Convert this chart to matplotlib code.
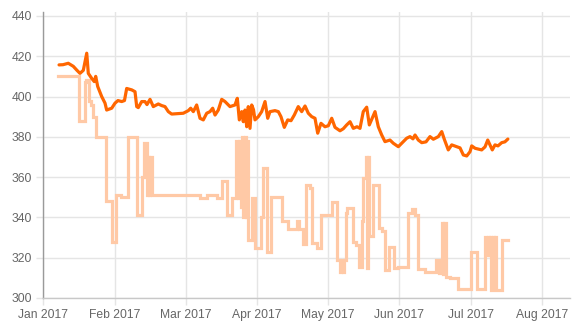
import matplotlib
matplotlib.use("Agg")
import matplotlib.pyplot as plt

plt.rcParams['font.family'] = ['Liberation Sans', 'DejaVu Sans']

# x values are in months since 1 Jan 2017 (0 = Jan 2017, 1 = Feb 2017, ...)
month_labels = ["Jan 2017", "Feb 2017", "Mar 2017", "Apr 2017",
                "May 2017", "Jun 2017", "Jul 2017", "Aug 2017"]
y_ticks = [300, 320, 340, 360, 380, 400, 420, 440]

# dark orange series (smooth line)
orange_points = [
    (0.221, 415.7), (0.277, 415.8), (0.351, 416.5), (0.421, 415.0), (0.473, 413.0),
    (0.515, 411.5), (0.562, 413.0), (0.610, 421.5), (0.632, 411.5), (0.680, 409.0),
    (0.716, 407.4), (0.736, 410.0), (0.764, 405.0), (0.820, 400.0), (0.867, 396.7),
    (0.890, 393.3), (0.961, 394.2), (1.007, 396.7), (1.049, 398.0), (1.101, 397.5),
    (1.140, 398.0), (1.171, 404.0), (1.242, 403.3), (1.288, 402.4), (1.312, 395.0),
    (1.334, 394.5), (1.382, 397.5), (1.428, 397.5), (1.456, 396.0), (1.499, 398.6),
    (1.545, 395.0), (1.615, 396.3), (1.663, 395.5), (1.709, 395.0), (1.756, 392.5),
    (1.803, 391.3), (1.966, 391.7), (2.037, 393.0), (2.070, 394.2), (2.107, 392.5),
    (2.154, 395.8), (2.201, 389.2), (2.247, 388.4), (2.295, 391.7), (2.341, 392.5),
    (2.379, 394.2), (2.412, 390.8), (2.458, 393.3), (2.506, 398.6), (2.552, 397.5),
    (2.622, 395.0), (2.692, 395.8), (2.725, 399.1), (2.753, 388.4), (2.787, 392.5),
    (2.809, 387.5), (2.833, 393.3), (2.857, 385.0), (2.879, 395.0), (2.903, 384.2),
    (2.927, 395.8), (2.952, 393.5), (2.973, 388.4), (3.020, 390.0), (3.067, 392.5),
    (3.114, 397.5), (3.152, 389.2), (3.184, 392.5), (3.254, 393.0), (3.301, 392.5),
    (3.338, 390.0), (3.385, 384.7), (3.433, 388.4), (3.479, 388.0), (3.525, 390.8),
    (3.581, 395.0), (3.629, 392.5), (3.676, 395.3), (3.722, 391.7), (3.770, 390.0),
    (3.816, 389.2), (3.854, 381.8), (3.900, 386.7), (3.956, 385.0), (4.003, 385.5),
    (4.051, 389.2), (4.097, 384.7), (4.167, 383.0), (4.213, 384.0), (4.261, 385.9),
    (4.308, 387.5), (4.354, 384.2), (4.406, 385.0), (4.448, 384.2), (4.494, 392.5),
    (4.542, 394.7), (4.579, 385.9), (4.617, 389.0), (4.659, 392.5), (4.705, 385.0),
    (4.753, 380.9), (4.799, 377.6), (4.869, 378.4), (4.916, 376.8), (4.986, 375.1),
    (5.034, 376.8), (5.104, 379.3), (5.150, 380.1), (5.192, 379.0), (5.221, 380.9),
    (5.267, 378.4), (5.315, 377.1), (5.375, 377.5), (5.431, 380.1), (5.478, 378.8),
    (5.548, 380.1), (5.596, 382.6), (5.632, 378.8), (5.688, 373.5), (5.736, 376.0),
    (5.806, 375.1), (5.853, 374.5), (5.899, 371.0), (5.947, 370.5), (5.993, 372.6),
    (6.017, 375.5), (6.065, 374.3), (6.157, 373.5), (6.204, 375.0), (6.242, 378.4),
    (6.274, 376.0), (6.306, 373.5), (6.344, 376.0), (6.386, 375.5), (6.438, 377.1),
    (6.483, 377.5), (6.525, 378.9),
]

# pale orange series (stepped line)
pale_points = [
    (0.211, 410.0), (0.508, 388.0), (0.579, 407.0), (0.600, 408.0), (0.635, 398.0),
    (0.663, 396.0), (0.699, 390.0), (0.747, 380.0), (0.881, 348.0), (0.969, 328.0),
    (1.020, 351.0), (1.085, 350.0), (1.183, 380.0), (1.309, 341.0), (1.390, 360.0),
    (1.415, 377.0), (1.452, 351.0), (1.470, 370.0), (1.487, 351.0), (1.505, 370.0),
    (1.522, 351.0), (2.201, 349.5), (2.295, 351.0), (2.433, 349.5), (2.503, 358.0),
    (2.576, 341.0), (2.650, 349.5), (2.711, 378.0), (2.730, 349.5), (2.750, 378.0),
    (2.770, 345.0), (2.790, 380.0), (2.810, 340.0), (2.830, 380.0), (2.850, 340.0),
    (2.865, 378.0), (2.879, 328.8), (2.931, 349.5), (2.969, 324.7), (3.053, 340.0),
    (3.086, 364.4), (3.142, 323.0), (3.194, 350.0), (3.346, 338.0), (3.437, 334.3),
    (3.559, 338.0), (3.598, 334.0), (3.652, 327.0), (3.690, 356.0), (3.739, 354.4),
    (3.774, 327.5), (3.840, 324.7), (3.907, 341.2), (4.051, 347.8), (4.118, 318.8),
    (4.167, 313.0), (4.187, 319.0), (4.207, 313.0), (4.227, 319.0), (4.247, 342.0),
    (4.270, 344.8), (4.350, 328.0), (4.388, 326.3), (4.434, 315.5), (4.472, 338.0),
    (4.494, 359.4), (4.528, 370.0), (4.548, 315.0), (4.562, 370.0), (4.575, 331.0),
    (4.631, 356.0), (4.719, 334.6), (4.753, 333.4), (4.799, 313.9), (4.860, 325.5),
    (4.926, 314.7), (4.986, 315.5), (5.126, 342.0), (5.174, 344.0), (5.221, 341.2),
    (5.267, 314.2), (5.361, 313.0), (5.515, 318.8), (5.557, 312.2), (5.596, 337.0),
    (5.615, 312.0), (5.633, 337.0), (5.652, 310.6), (5.712, 309.8), (5.829, 304.5),
    (6.003, 322.7), (6.096, 304.3), (6.205, 330.5), (6.222, 321.5), (6.240, 330.5),
    (6.257, 321.5), (6.275, 330.5), (6.292, 304.0), (6.310, 330.5), (6.327, 321.5),
    (6.345, 330.5), (6.360, 304.0), (6.372, 304.0), (6.438, 329.0), (6.527, 329.0),
]

orange_x = [p[0] for p in orange_points]
orange_y = [p[1] for p in orange_points]
pale_x = [p[0] for p in pale_points]
pale_y = [p[1] for p in pale_points]

W, H = 574, 328
fig = plt.figure(figsize=(W / 100, H / 100), dpi=100)
ax = fig.add_axes([43.3 / W, 30 / H, (570 - 43.3) / W, (298 - 11.7) / H])

ax.plot(pale_x, pale_y, drawstyle='steps-post', color='#FFC9A6', lw=2.3,
        solid_joinstyle='miter', zorder=3)
ax.plot(orange_x, orange_y, color='#FF6600', lw=2.3, solid_joinstyle='round',
        solid_capstyle='round', zorder=4)

ax.set_xlim(0, (570 - 43.3) / 71.2)
ax.set_ylim(300, 442.1)
ax.set_xticks(range(len(month_labels)))
ax.set_xticklabels(month_labels)
ax.set_yticks(y_ticks)
ax.set_yticklabels([str(v) for v in y_ticks])

ax.grid(True, color='#E5E5E5', lw=1)
ax.set_axisbelow(True)
for s in ['top', 'right']:
    ax.spines[s].set_visible(False)
ax.spines['left'].set_color('#9A9A9A')
ax.spines['bottom'].set_color('#C8C8C8')
ax.spines['left'].set_linewidth(1)
ax.spines['bottom'].set_linewidth(1)
ax.tick_params(axis='both', colors='#E5E5E5', length=5, width=1,
               labelcolor='#666666', labelsize=8.7)
ax.tick_params(axis='y', pad=3)
ax.tick_params(axis='x', pad=3)

fig.savefig('out.png', dpi=100, facecolor='white')
